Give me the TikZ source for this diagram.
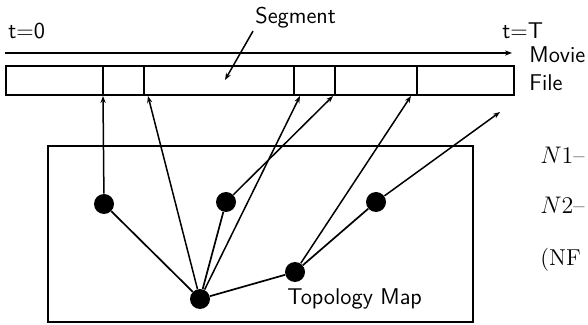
\documentclass[tikz,border=0pt]{standalone}
\usetikzlibrary{arrows.meta}
\begin{document}
\begin{tikzpicture}[x=0.5pt,y=-0.5pt,
  dot/.style={circle,fill=black,inner sep=0pt,minimum size=10pt},
  conn/.style={line width=0.85pt},
  arr/.style={line width=0.75pt,-{Stealth[length=3.5pt,width=2.6pt]}},
  frame/.style={line width=0.95pt},
  lbl/.style={font=\sffamily\fontsize{11.4}{13}\selectfont,inner sep=0pt,anchor=base west},
  ser/.style={font=\fontsize{11.5}{13}\selectfont,inner sep=0pt,anchor=base west}]
\useasboundingbox (0,0) rectangle (588,325);

% time axis
\coordinate (ax0) at (5,53);
\coordinate (ax1) at (512,53);
\draw[arr] (ax0) -- (ax1);
\node[lbl] (t0) at (8,39) {t=0};
\node[lbl] (tT) at (502,39) {t=T};
\node[lbl] (movie) at (529,63) {Movie};
\node[lbl] (file) at (529,91) {File};

% movie file bar
\draw[frame] (6,66) rectangle (514,95);
\foreach \x in {103,144,294,335,417} \draw[frame] (\x,66) -- (\x,95);

% segment label
\node[lbl] (seg) at (255,24) {Segment};
\coordinate (segtip) at (225,80);
\draw[arr] (seg.south west) ++(-2,2) coordinate (segs) (segs) -- (segtip);

% topology map box
\draw[frame] (48,146) rectangle (473,322);
\node[lbl] (topo) at (287,305) {Topology Map};

% nodes
\node[dot] (A) at (104,204) {};
\node[dot] (B) at (226,202) {};
\node[dot] (C) at (200,299) {};
\node[dot] (D) at (295,272) {};
\node[dot] (E) at (376,202) {};

% targets on the bar
\coordinate (pA) at (103,96);
\coordinate (pC1) at (148,96);
\coordinate (pC2) at (300,96);
\coordinate (pB) at (333,96);
\coordinate (pD) at (411,96);
\coordinate (pE) at (500,112);

% edges
\draw[conn] (A) -- (C);
\draw[conn] (B) -- (C);
\draw[conn] (C) -- (D);
\draw[conn] (D) -- (E);

% arrows to the movie file
\draw[arr] (A) -- (pA);
\draw[arr] (C) -- (pC1);
\draw[arr] (C) -- (pC2);
\draw[arr] (B) -- (pB);
\draw[arr] (D) -- (pD);
\draw[arr] (E) -- (pE);

% side text
\node[ser] (n1) at (540,164) {$N1$--};
\node[ser] (n2) at (540,214) {$N2$--};
\node[ser] (nf) at (540,266) {(NF};
\end{tikzpicture}
\end{document}
